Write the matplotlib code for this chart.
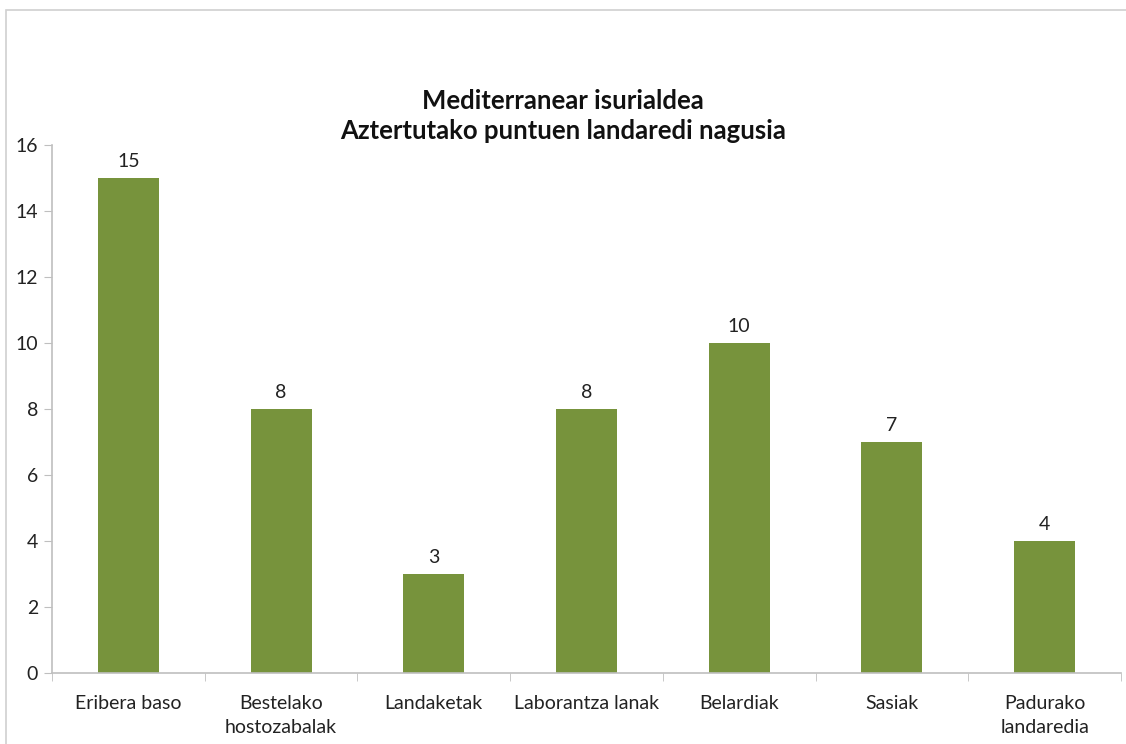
import numpy as np
import matplotlib.pyplot as plt
from matplotlib.patches import Rectangle

categories = ['Eribera baso', 'Bestelako\nhostozabalak', 'Landaketak', 'Laborantza lanak',
              'Belardiak', 'Sasiak', 'Padurako\nlandaredia']
values = [15, 8, 3, 8, 10, 7, 4]
title = 'Mediterranear isurialdea\nAztertutako puntuen landaredi nagusia'

plt.rcParams['font.family'] = ['Lato', 'DejaVu Sans']
grey = '#BFBFBF'
green = '#77933C'

fig = plt.figure(figsize=(11.26, 7.44), dpi=100)
fig.patches.append(Rectangle((6 / 1126, -0.1), 1.2, 1 - 10 / 744 + 0.1,
                             transform=fig.transFigure, fill=False,
                             edgecolor='#D0D0D0', linewidth=1.2))
ax = fig.add_axes([52 / 1126, 1 - 673 / 744, (1121 - 52) / 1126, (673 - 145) / 744])

x = np.arange(len(categories))
bars = ax.bar(x, values, width=0.4, color=green)
for b, v in zip(bars, values):
    ax.annotate(str(v), (b.get_x() + b.get_width() / 2, v), xytext=(0, 6),
                textcoords='offset points', ha='center', va='bottom', fontsize=14, color='#222222')

ax.set_xlim(-0.5, len(categories) - 0.5)
ax.set_ylim(0, 16)
ax.set_yticks(np.arange(0, 17, 2))
ax.set_xticks(x)
ax.set_xticklabels(categories, fontsize=14, color='#222222', linespacing=1.5)
ax.set_xticks(np.arange(-0.5, len(categories)), minor=True)
ax.tick_params(axis='x', which='major', length=0, pad=16)
ax.tick_params(axis='x', which='minor', length=6, color=grey)
ax.tick_params(axis='y', length=6, color=grey, labelsize=14, labelcolor='#222222', pad=4)

for s in ['top', 'right']:
    ax.spines[s].set_visible(False)
for s in ['left', 'bottom']:
    ax.spines[s].set_color(grey)
    ax.spines[s].set_linewidth(1.2)

fig.text(0.5, 1 - 116 / 744, title, ha='center', va='center', fontsize=18.5,
         fontweight='bold', color='#111111', linespacing=1.3)

fig.savefig('out.png', dpi=100)
